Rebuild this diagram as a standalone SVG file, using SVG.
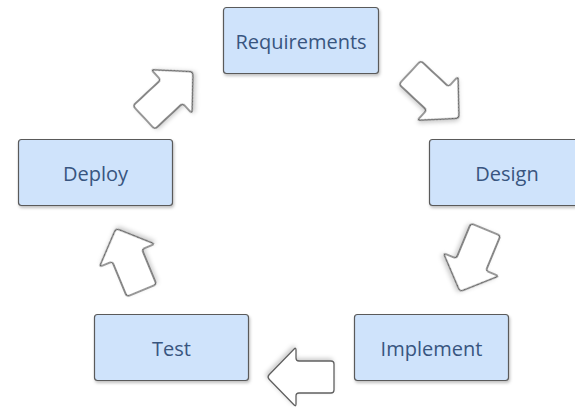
<svg xmlns="http://www.w3.org/2000/svg" xmlns:xlink="http://www.w3.org/1999/xlink" width="575" height="408" viewBox="0 0 575 408">
  <style>
    .node rect { fill: #cfe3fb; stroke: #5a5a5a; stroke-width: 1.2; filter: url(#sh); }
    .node text { font-family: "Open Sans", "Noto Sans", sans-serif; font-size: 20px; fill: #38557f; text-anchor: middle; dominant-baseline: central; }
    .arr { fill: #ffffff; stroke: #606060; stroke-width: 1.3; stroke-linejoin: round; filter: url(#sh2); }
  </style>
  <defs>
    <filter id="sh" x="-10%" y="-10%" width="130%" height="140%">
      <feDropShadow dx="1" dy="2" stdDeviation="1.5" flood-color="#000" flood-opacity="0.25"/>
    </filter>
    <filter id="sh2" x="-30%" y="-30%" width="160%" height="160%">
      <feDropShadow dx="1.5" dy="2" stdDeviation="2" flood-color="#000" flood-opacity="0.2"/>
    </filter>
    <path id="arrow" d="M -30,-16 L 2,-16 Q 5,-16 5,-19 L 5,-27 Q 5,-30 7.1,-27.8 L 31.9,-2.2 Q 34,0 31.9,2.2 L 7.1,27.8 Q 5,30 5,27 L 5,19 Q 5,16 2,16 L -30,16 Q -33,16 -33,13 L -33,-13 Q -33,-16 -30,-16 Z"/>
  </defs>

  <g id="connectors">
    <use class="arr" xlink:href="#arrow" href="#arrow" transform="translate(434,95) rotate(43)"/>
    <use class="arr" xlink:href="#arrow" href="#arrow" transform="translate(473,260) rotate(112.5)"/>
    <use class="arr" xlink:href="#arrow" href="#arrow" transform="translate(301,377) rotate(180)"/>
    <use class="arr" xlink:href="#arrow" href="#arrow" transform="translate(129,260) rotate(247.5)"/>
    <use class="arr" xlink:href="#arrow" href="#arrow" transform="translate(168,95) rotate(-43)"/>
  </g>

  <g id="requirements" class="node">
    <rect x="223.5" y="7.5" width="155" height="66" rx="3"/>
    <text x="301" y="41">Requirements</text>
  </g>
  <g id="design" class="node">
    <rect x="429.5" y="139.5" width="155" height="66" rx="3"/>
    <text x="507" y="173">Design</text>
  </g>
  <g id="implement" class="node">
    <rect x="354.5" y="314.5" width="154" height="66" rx="3"/>
    <text x="431.5" y="348">Implement</text>
  </g>
  <g id="test" class="node">
    <rect x="94.5" y="314.5" width="154" height="66" rx="3"/>
    <text x="171.5" y="348">Test</text>
  </g>
  <g id="deploy" class="node">
    <rect x="18.5" y="139.5" width="154" height="66" rx="3"/>
    <text x="95.5" y="173">Deploy</text>
  </g>
</svg>
